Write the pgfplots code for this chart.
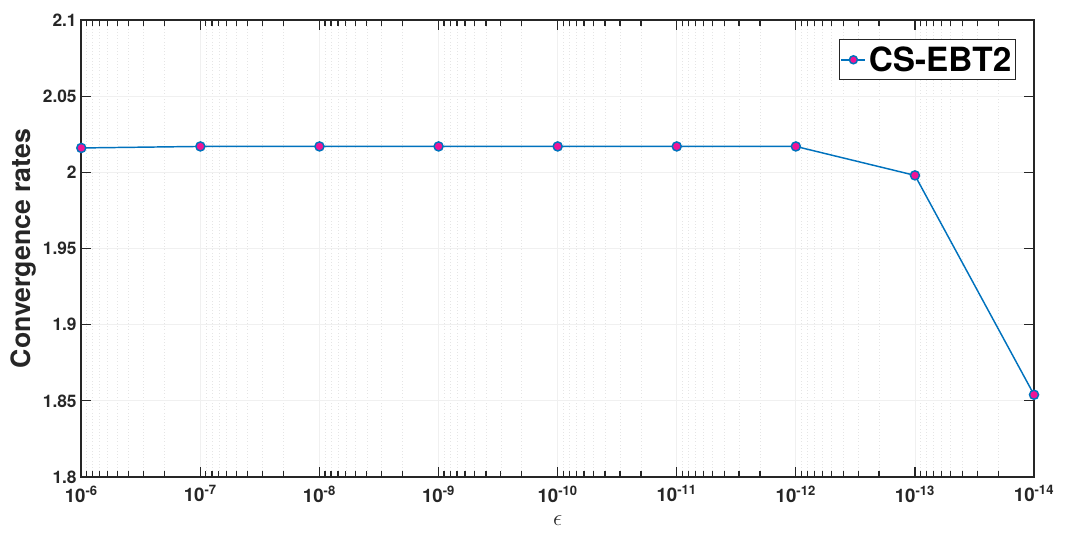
\documentclass[border=0pt]{standalone}
\usepackage{pgfplots}
\pgfplotsset{compat=1.18}
\usepackage{fontspec}
\setmainfont{TeX Gyre Heros}
\definecolor{mblue}{RGB}{0,114,189}
\definecolor{mpink}{RGB}{240,20,150}
\definecolor{axgray}{RGB}{38,38,38}
\begin{document}
\begin{tikzpicture}
\begin{axis}[
    scale only axis,
    width=715pt, height=343pt,
    xmode=log, x dir=reverse,
    xmin=1e-14, xmax=1e-6,
    ymin=1.8, ymax=2.1,
    xtick={1e-6,1e-7,1e-8,1e-9,1e-10,1e-11,1e-12,1e-13,1e-14},
    xticklabels={10\textsuperscript{-6},10\textsuperscript{-7},10\textsuperscript{-8},10\textsuperscript{-9},10\textsuperscript{-10},10\textsuperscript{-11},10\textsuperscript{-12},10\textsuperscript{-13},10\textsuperscript{-14}},
    minor xtick={
      2e-14,3e-14,4e-14,5e-14,6e-14,7e-14,8e-14,9e-14,
      2e-13,3e-13,4e-13,5e-13,6e-13,7e-13,8e-13,9e-13,
      2e-12,3e-12,4e-12,5e-12,6e-12,7e-12,8e-12,9e-12,
      2e-11,3e-11,4e-11,5e-11,6e-11,7e-11,8e-11,9e-11,
      2e-10,3e-10,4e-10,5e-10,6e-10,7e-10,8e-10,9e-10,
      2e-9,3e-9,4e-9,5e-9,6e-9,7e-9,8e-9,9e-9,
      2e-8,3e-8,4e-8,5e-8,6e-8,7e-8,8e-8,9e-8,
      2e-7,3e-7,4e-7,5e-7,6e-7,7e-7,8e-7,9e-7},
    ytick={1.8,1.85,1.9,1.95,2,2.05,2.1},
    yticklabels={1.8,1.85,1.9,1.95,2,2.05,2.1},
    yticklabel style={font=\fontsize{13}{14}\selectfont\bfseries, text=axgray},
    xticklabel style={font=\fontsize{14}{15}\selectfont\bfseries, text=axgray, yshift=-3pt},
    tick align=inside,
    major tick length=7.5pt, minor tick length=4.5pt,
    every tick/.style={axgray, line width=0.9pt},
    axis line style={axgray, line width=1.4pt},
    grid=both,
    major grid style={gray!12, line width=0.6pt},
    minor grid style={gray!20, dotted, line width=0.5pt},
    xlabel={$\epsilon$},
    xlabel style={font=\fontsize{17}{18}\selectfont, text=axgray,
        at={(axis description cs:0.5,0)}, anchor=center, yshift=-33pt},
    ylabel={Convergence rates},
    ylabel style={font=\fontsize{20}{22}\selectfont\bfseries, text=axgray, yshift=-2pt},
    legend style={at={(0.981,0.958)}, anchor=north east, draw=axgray, line width=0.9pt,
        font=\fontsize{25}{27}\selectfont\bfseries, inner xsep=1pt, inner ysep=3pt},
    legend image code/.code={
        \draw[mark repeat=2, mark phase=2, mark size=3pt] plot coordinates {(-2pt,0pt) (7pt,0pt) (16pt,0pt)};},
    legend cell align=left,
]
\addplot[color=mblue, line width=1.1pt, mark=*, mark size=3.4pt,
    mark options={fill=mpink, draw=mblue, line width=1.1pt}]
coordinates {
    (1e-6,2.016) (1e-7,2.017) (1e-8,2.017) (1e-9,2.017) (1e-10,2.017)
    (1e-11,2.017) (1e-12,2.017) (1e-13,1.998) (1e-14,1.854)
};
\addlegendentry{CS-EBT2}
\path (rel axis cs:0,0) ++(-61pt,-42pt) coordinate (bbll);
\path (rel axis cs:1,1) ++(28.5pt,15pt) coordinate (bbur);
\end{axis}
\path[use as bounding box] (bbll) rectangle (bbur);
\end{tikzpicture}
\end{document}
